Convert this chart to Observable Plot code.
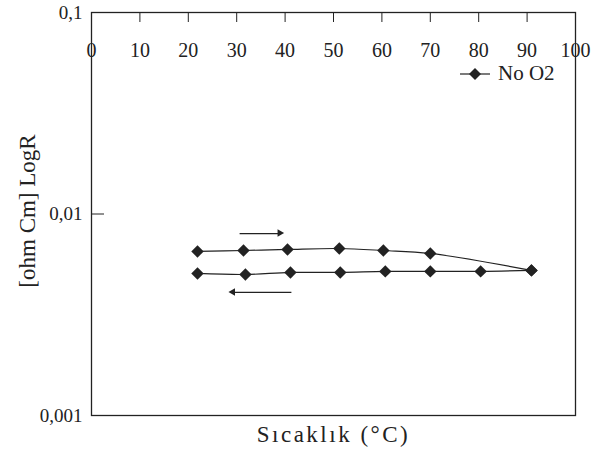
<!DOCTYPE html>
<html><head><meta charset="utf-8">
<script src="https://cdn.jsdelivr.net/npm/d3@7"></script>
<script src="https://cdn.jsdelivr.net/npm/@observablehq/plot@0.6"></script>
<style>
body{margin:0;background:#fff;}
#wrap{position:relative;width:596px;height:457px;font-family:"Liberation Serif","Times New Roman",serif;color:#222;}
#legend{position:absolute;left:459px;top:61px;font-size:21px;display:flex;align-items:center;}
#legend svg{margin-right:7px;}
</style></head><body><div id="wrap"><div id="legend"><svg width="32" height="14"><line x1="1" y1="7" x2="31" y2="7" stroke="#222" stroke-width="1.2"/><path d="M16,1L22,7L16,13L10,7Z" fill="#222"/></svg><span>No O2</span></div></div>
<script>
const seriesName = "No O2";
const xLabel = "Sıcaklık (°C)";
const yLabel = "[ohm Cm] LogR";
const xTicks = [0, 10, 20, 30, 40, 50, 60, 70, 80, 90, 100];
const yTicks = [0.001, 0.01, 0.1];
// heating (upper branch), ends at the max-temperature point
const heatTemp = [21.9, 31.4, 40.5, 51.2, 60.3, 70.0, 90.9];
const heatR = [0.00652, 0.00659, 0.00667, 0.00674, 0.00659, 0.00637, 0.00525];
// cooling (lower branch)
const coolTemp = [90.9, 80.4, 70.0, 60.7, 51.4, 41.1, 31.8, 21.9];
const coolR = [0.00525, 0.00519, 0.00519, 0.00519, 0.00513, 0.00513, 0.00501, 0.00507];
// direction arrows [tailTemp, tipTemp, R]
const heatArrow = [30.6, 39.0, 0.00800];
const coolArrow = [41.3, 29.3, 0.00408];

const heat = heatTemp.map((t, i) => ({t, r: heatR[i]}));
const cool = coolTemp.map((t, i) => ({t, r: coolR[i]}));
const arrows = [
  {x1: heatArrow[0], x2: heatArrow[1], y: heatArrow[2], rot: 90, dx: -3},
  {x1: coolArrow[0], x2: coolArrow[1], y: coolArrow[2], rot: -90, dx: 3}
];
const W = 596, H = 457, mL = 91, mR = 21, mT = 12, mB = 42;
const fw = W - mL - mR, fh = H - mT - mB;

const chart = Plot.plot({
  width: W, height: H,
  marginLeft: mL, marginRight: mR, marginTop: mT, marginBottom: mB,
  style: {fontFamily: '"Liberation Serif","Times New Roman",serif', fontSize: "19px", color: "#222", background: "#fff"},
  x: {domain: [0, 100]},
  y: {type: "log", domain: [0.001, 0.1]},
  marks: [
    Plot.axisY({ticks: yTicks, tickSize: 0, tickPadding: 9, tickFormat: d => String(d).replace(".", ","),
      label: null, fontSize: 19}),
    Plot.text([yLabel], {frameAnchor: "left", dx: -64, dy: -3, rotate: -90, textAnchor: "middle", text: d => d, fill: "#222", fontSize: 23}),
    Plot.axisX({ticks: [], label: null}),
    Plot.tickX(xTicks, {x: d => d, insetBottom: fh - 10, stroke: "#222"}),
    Plot.tickY([yTicks[1]], {y: d => d, insetRight: fw - 13, stroke: "#222"}),
    Plot.text(xTicks, {x: d => d, frameAnchor: "top", dy: 30, text: d => String(d), fill: "#222", fontSize: 20}),
    Plot.text([xLabel], {frameAnchor: "bottom", dy: 26, text: d => d, fill: "#222", fontSize: 23, className: "xlab"}),
    Plot.frame({stroke: "#222", strokeWidth: 1.3}),
    Plot.line(heat, {x: "t", y: "r", curve: "catmull-rom", stroke: "#222", strokeWidth: 1.2}),
    Plot.line(cool, {x: "t", y: "r", curve: "catmull-rom", stroke: "#222", strokeWidth: 1.2}),
    Plot.dot(heat, {x: "t", y: "r", symbol: "diamond2", r: 5.6, fill: "#222", stroke: "none"}),
    Plot.dot(cool, {x: "t", y: "r", symbol: "diamond2", r: 5.6, fill: "#222", stroke: "none"}),
    Plot.link(arrows, {x1: "x1", x2: "x2", y1: "y", y2: "y", stroke: "#222", strokeWidth: 1.2}),
    Plot.dot(arrows, {x: "x2", y: "y", symbol: "triangle2", r: 3.6, rotate: "rot", dx: "dx", fill: "#222", stroke: "none"})
  ]
});
chart.querySelectorAll("text").forEach(t => { if (t.textContent === xLabel) t.style.letterSpacing = "2.5px"; });
document.getElementById("wrap").prepend(chart);
</script>
</body></html>
